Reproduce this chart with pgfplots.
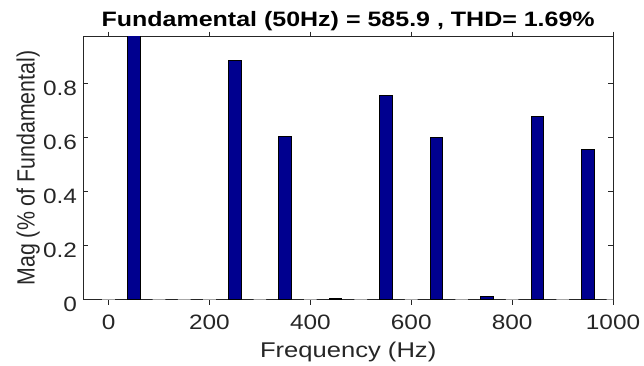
\documentclass[border=0pt]{standalone}
\usepackage{pgfplots}
\pgfplotsset{compat=1.18}
\usepackage{fontspec}
\setmainfont{Liberation Sans}
\definecolor{barblue}{RGB}{0,0,143}
\definecolor{axgray}{RGB}{38,38,38}

\begin{document}
\begin{tikzpicture}
\begin{axis}[
  name=ax,
  scale only axis,
  width=534pt, height=265pt,
  xmin=-50, xmax=1000,
  ymin=0, ymax=0.973,
  xtick={0,200,400,600,800,1000},
  ytick={0,0.2,0.4,0.6,0.8},
  yticklabels={0,0.2,0.4,0.6,0.8},
  /pgf/number format/1000 sep={},
  tick align=inside,
  major tick length=5pt,
  tick style={axgray, line width=0.6pt},
  axis line style={axgray, line width=0.8pt},
  /pgf/number format/assume math mode=true,
  every tick label/.append style={font=\fontsize{21}{24}\selectfont, text=axgray, xscale=1.17},
  xticklabel style={yshift=-7pt},
  yticklabel style={xshift=-2pt, yshift=-5pt},
  xlabel={Frequency (Hz)},
  ylabel={Mag (\% of Fundamental)},
  xlabel style={font=\fontsize{21.5}{24}\selectfont, text=axgray, xscale=1.2, yshift=-6pt},
  ylabel style={font=\fontsize{21.5}{24}\selectfont, text=axgray, yscale=1.17, yshift=-4pt},
  title={\bfseries Fundamental (50Hz) = 585.9 , THD= 1.69\%},
  title style={font=\fontsize{21}{24}\selectfont, xscale=1.2, yshift=-4pt},
  ybar, bar width=25, bar shift=0pt,
  clip=true,
]
% empty frequency bins
\addplot[fill=barblue, draw=gray!70, line width=0.8pt] coordinates {
  (0,0) (100,0) (150,0) (200,0) (300,0) (400,0) (500,0)
  (600,0) (700,0) (800,0) (900,0) (1000,0)
};
% harmonic magnitudes (percent of fundamental)
\addplot[fill=barblue, draw=black, line width=0.8pt] coordinates {
  (50,1.0) (250,0.885) (350,0.605) (450,0.004) (550,0.755)
  (650,0.600) (750,0.010) (850,0.679) (950,0.555)
};
\end{axis}
\path (ax.south west) ++(-84pt,-63pt) coordinate (bbA);
\path (ax.north east) ++(26pt,37pt) coordinate (bbB);
\path (bbA) rectangle (bbB);
\end{tikzpicture}
\end{document}
